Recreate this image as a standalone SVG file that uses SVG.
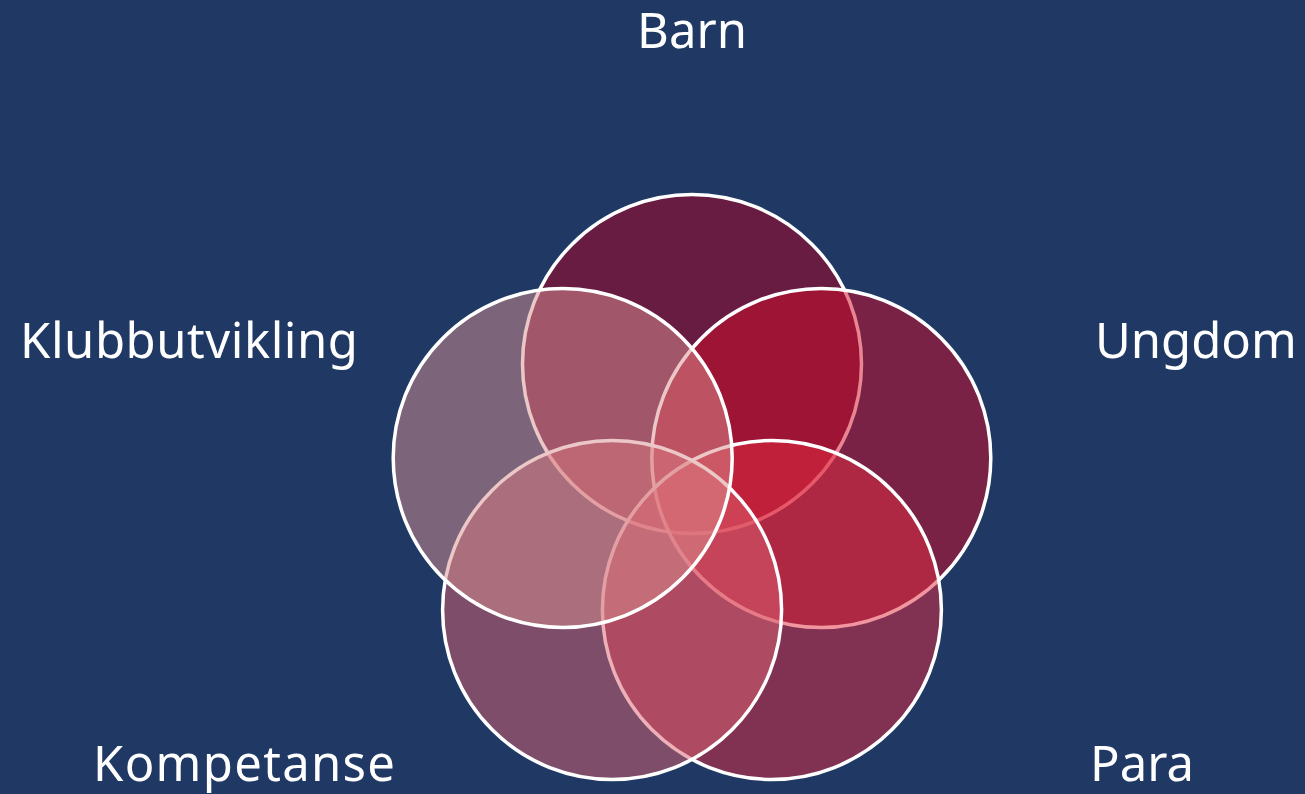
<svg xmlns="http://www.w3.org/2000/svg" width="1305" height="794" viewBox="0 0 1305 794">
<style>
.c{stroke:#ffffff;stroke-width:3.5;fill-opacity:0.5}
.t{font-family:"Noto Sans","Open Sans","DejaVu Sans",sans-serif;font-size:49px;fill:#ffffff}
</style>
<rect width="1305" height="794" fill="#1F3864"/>
<g id="barn"><circle class="c" cx="692" cy="364" r="169.5" fill="#B40020"/></g>
<g id="ungdom"><circle class="c" cx="821.3" cy="458" r="169.5" fill="#D40C28"/></g>
<g id="para"><circle class="c" cx="771.9" cy="610" r="169.5" fill="#E42C40"/></g>
<g id="kompetanse"><circle class="c" cx="612.1" cy="610" r="169.5" fill="#DC6270"/></g>
<g id="klubbutvikling"><circle class="c" cx="562.7" cy="458" r="169.5" fill="#DA9090"/></g>
<g id="labels">
<text class="t" x="692" y="48" text-anchor="middle">Barn</text>
<text class="t" x="20" y="358" textLength="338">Klubbutvikling</text>
<text class="t" x="1095" y="358">Ungdom</text>
<text class="t" x="93" y="781" textLength="302">Kompetanse</text>
<text class="t" x="1090" y="781">Para</text>
</g>
<g id="connectors"></g>
</svg>
